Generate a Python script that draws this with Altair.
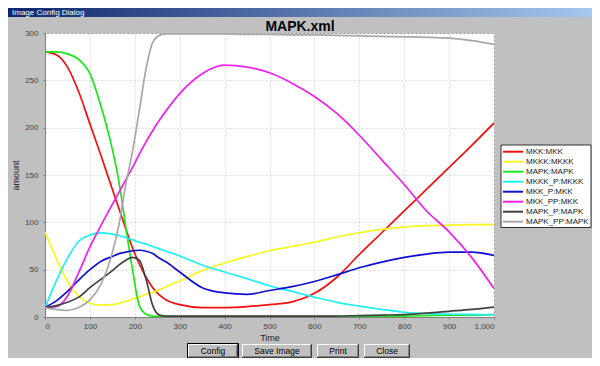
import altair as alt
import pandas as pd

# ---------------- data ----------------
time = [0, 25, 50, 75, 100, 125, 150, 165, 180, 195, 210, 225, 240, 255, 270,
        300, 350, 400, 450, 500, 550, 600, 650, 700, 750, 800, 850, 900, 950, 1000]

series_names = ["MKK:MKK", "MKKK:MKKK", "MAPK:MAPK", "MKKK_P:MKKK",
                "MKK_P:MKK", "MKK_PP:MKK", "MAPK_P:MAPK", "MAPK_PP:MAPK"]
series_colors = ["#f01010", "#f8f820", "#18e818", "#20f0f0",
                 "#1010d0", "#f020f0", "#404040", "#a8a8a8"]

mkk_mkk = [280, 277, 264, 238, 204, 170, 135, 114, 93, 73, 56, 42, 31, 23, 18,
           13, 10, 10, 11, 13, 16, 25, 42, 66, 89, 112, 135, 158, 181, 205]
mkkk_mkkk = [90, 62, 38, 22, 14.5, 12.5, 13, 14.5, 16.5, 19, 21, 24, 26, 29, 32,
             38, 49, 57, 64, 70, 74.5, 79, 84.5, 89, 92.5, 95, 96.5, 97, 97.5, 97.5]
mapk_mapk = [280, 280, 278, 272, 257, 222, 177, 142, 95, 50, 12, 3, 1, 0.5, 0.5,
             0.5, 0.5, 0.5, 0.5, 0.5, 0.5, 0.5, 0.5, 0.8, 1, 1, 1.5, 2, 2, 2.5]
mkkk_p_mkkk = [10, 38, 62, 80, 86.5, 88.8, 87.5, 86, 84, 81.5, 79, 77, 74.5, 72, 69.5,
               64.5, 55, 47.5, 40.5, 33, 27, 21, 15.5, 11.5, 8, 5, 3.5, 3, 2.7, 2.5]
mkk_p_mkk = [10, 17, 27, 39, 50, 59, 64, 67, 68.5, 70, 70.5, 69.5, 67, 62, 58,
             47.5, 31, 25.5, 24, 28, 32, 37.5, 44.5, 52, 58, 63, 66.5, 68.5, 68.5, 65]
mkk_pp_mkk = [10, 11, 22, 47, 74, 97, 119, 132, 145, 158, 172, 185, 197, 208, 218,
              236, 257, 266, 264, 258, 247, 233, 215, 192, 166, 140, 112, 90, 63, 30]
mapk_p_mapk = [10, 12, 15.5, 21, 31, 40, 49, 55, 60, 63, 60, 40, 12, 2, 1,
               1, 1, 1, 1, 1, 1, 1, 1, 1.5, 2, 2.5, 4, 6, 8, 10.5]
mapk_pp_mapk = [10, 8, 7, 10, 18, 35, 68, 98, 140, 175, 218, 262, 290, 297.5, 299,
                299, 299, 299, 298.5, 298.5, 298, 298, 297.5, 297, 296.5, 296, 295.5, 294.5, 292, 288]

x_ticks = list(range(0, 1001, 100))
y_ticks = list(range(0, 301, 50))

chart_title = "MAPK.xml"
window_title = "Image Config Dialog"
button_labels = ["Config", "Save Image", "Print", "Close"]

# ---------------- table ----------------
all_values = [mkk_mkk, mkkk_mkkk, mapk_mapk, mkkk_p_mkkk,
              mkk_p_mkk, mkk_pp_mkk, mapk_p_mapk, mapk_pp_mapk]
rows = []
for name, vals in zip(series_names, all_values):
    for t, v in zip(time, vals):
        rows.append({"Time": t, "amount": v, "series": name})
df = pd.DataFrame(rows)

W, H = 449, 284
color_scale = alt.Scale(domain=series_names, range=series_colors)

lines = alt.Chart(df).mark_line(strokeWidth=1.7, interpolate="monotone", clip=True).encode(
    x=alt.X("Time:Q", scale=alt.Scale(domain=[0, 1000], nice=False),
            axis=alt.Axis(values=x_ticks, format=",d", title="Time")),
    y=alt.Y("amount:Q", scale=alt.Scale(domain=[0, 300], nice=False),
            axis=alt.Axis(values=y_ticks, title="amount")),
    color=alt.Color("series:N", scale=color_scale, legend=None),
    detail="series:N",
)

# ---------------- legend box (same colour scale as the lines) ----------------
leg_df = pd.DataFrame({"series": series_names,
                       "ly": [118.7 + 10 * i for i in range(len(series_names))]})
leg_box = alt.Chart(pd.DataFrame({"a": [0]})).mark_rect(
    fill="white", stroke="#303030", strokeWidth=1
).encode(x=alt.value(456), x2=alt.value(546), y=alt.value(112), y2=alt.value(194.5))
leg_lines = alt.Chart(leg_df).mark_rule(strokeWidth=2).encode(
    x=alt.value(458), x2=alt.value(478), y=alt.Y("ly:Q", scale=None),
    color=alt.Color("series:N", scale=color_scale, legend=None))
leg_text = alt.Chart(leg_df).mark_text(
    align="left", baseline="middle", fontSize=8, color="#202020", font="Liberation Sans"
).encode(x=alt.value(481), y=alt.Y("ly:Q", scale=None), text="series:N")

# ---------------- chart title ----------------
title_mark = alt.Chart(pd.DataFrame({"t": [chart_title]})).mark_text(
    fontSize=14, fontWeight="bold", align="center", baseline="alphabetic",
    color="#000000", font="Liberation Sans"
).encode(x=alt.value(255), y=alt.value(-2.5), text="t:N")

# ---------------- dialog chrome (window title bar and buttons) ----------------
bar = alt.Chart(pd.DataFrame({"a": [0]})).mark_rect(
    color=alt.Gradient(gradient="linear",
                       stops=[alt.GradientStop(color="#0a246a", offset=0),
                              alt.GradientStop(color="#a6caf0", offset=1)],
                       x1=0, x2=1, y1=0, y2=0)
).encode(x=alt.value(-45), x2=alt.value(555), y=alt.value(-26), y2=alt.value(-16))

bar_text = alt.Chart(pd.DataFrame({"t": [window_title]})).mark_text(
    align="left", baseline="alphabetic", fontSize=8, color="white", font="Liberation Sans"
).encode(x=alt.value(-33), y=alt.value(-18), text="t:N")

btn_x0 = [143, 197, 272, 319]
btn_x1 = [193, 267, 314, 365]
by0, by1 = 311, 325
rect_rows = []
for i, (a, b) in enumerate(zip(btn_x0, btn_x1)):
    if i == 0:
        rect_rows.append({"x": a - 1, "x2": b + 1, "y": by0 - 1, "y2": by1 + 1, "f": "#000000"})
    rect_rows.append({"x": a, "x2": b, "y": by0, "y2": by1, "f": "#404040"})
    rect_rows.append({"x": a, "x2": b - 1, "y": by0, "y2": by1 - 1, "f": "#ffffff"})
    rect_rows.append({"x": a + 1, "x2": b - 1, "y": by0 + 1, "y2": by1 - 1, "f": "#808080"})
    rect_rows.append({"x": a + 1, "x2": b - 2, "y": by0 + 1, "y2": by1 - 2, "f": "#c0c0c0"})
for i, r in enumerate(rect_rows):
    r["o"] = i
buttons = alt.Chart(pd.DataFrame(rect_rows)).mark_rect().encode(
    x=alt.X("x:Q", scale=None), x2="x2:Q",
    y=alt.Y("y:Q", scale=None), y2="y2:Q",
    fill=alt.Fill("f:N", scale=None), order="o:Q")

btn_text = alt.Chart(pd.DataFrame({
    "label": button_labels,
    "cx": [(a + b) / 2 for a, b in zip(btn_x0, btn_x1)],
})).mark_text(fontSize=8.5, color="#000000", baseline="middle", font="Liberation Sans").encode(
    x=alt.X("cx:Q", scale=None), y=alt.value((by0 + by1) / 2), text="label:N")

chart = alt.layer(bar, bar_text, title_mark, buttons, btn_text, lines,
                  leg_box, leg_lines, leg_text).properties(
    width=W, height=H,
    padding={"left": 37, "top": 25, "right": 98, "bottom": 41},
    autosize=alt.AutoSizeParams(type="none"),
    background="#c0c0c0",
).configure_view(
    fill="white", stroke="#a0a0a0", strokeWidth=1
).configure_axis(
    labelFontSize=8, labelColor="#404040", labelFont="Liberation Sans",
    titleFontSize=9, titleFontWeight="normal", titleColor="#202020", titleFont="Liberation Sans",
    domainColor="#808080", tickColor="#808080", tickSize=2,
    gridColor="#dadada", gridDash=[2, 2], gridWidth=1,
).configure_axisX(
    labelPadding=3, titlePadding=3,
).configure_axisY(
    labelPadding=5, titlePadding=4,
)

chart.save("out.html", embed_options={"renderer": "svg", "actions": False})
